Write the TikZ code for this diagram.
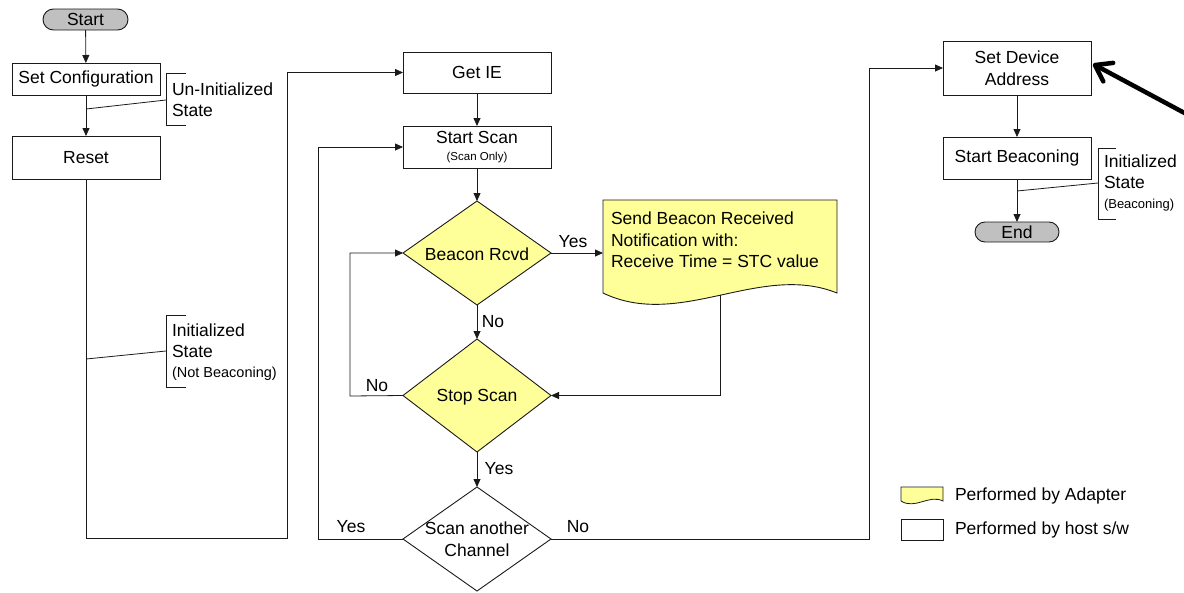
\documentclass[tikz,border=0pt]{standalone}
\usepackage{fontspec}
\setmainfont{Liberation Sans}
\usetikzlibrary{shapes.geometric,shapes.misc,arrows.meta,calc}
\definecolor{adapter}{HTML}{FFFF99}
\definecolor{termfill}{HTML}{C0C0C0}
\definecolor{ink}{HTML}{1A1A1A}

\newcommand\smalltxt{\fontsize{14.5}{17}\selectfont}
\newcommand\tinytxt{\fontsize{11.5}{13}\selectfont}

\begin{document}
\begin{tikzpicture}[x=1pt,y=-1pt,
  every node/.style={font=\fontsize{17.5}{21.5}\selectfont, inner sep=0pt, outer sep=0pt, text=black},
  proc/.style={draw=ink, line width=0.9pt, fill=white, minimum width=148pt, align=center},
  decide/.style={diamond, draw=ink, line width=0.9pt, minimum width=148pt},
  term/.style={rounded rectangle, draw=ink, line width=0.9pt, fill=termfill},
  flow/.style={draw=ink, line width=0.8pt},
  arr/.style={flow, -{Triangle[length=8pt,width=7pt]}},
  brk/.style={draw=ink, line width=0.8pt},
  note/.style={anchor=west, align=left},
  lbl/.style={}
]
\useasboundingbox (0,0) rectangle (1184,592);

% ---------- left column: host initialisation ----------
\node[term, minimum width=85pt, minimum height=21pt] (start) at (85.5,19.5) {Start};
\node[proc, minimum height=32pt] (cfg) at (86,79) {Set Configuration};
\node[proc, minimum height=43pt] (reset) at (86,157.5) {Reset};

\draw[arr] (start) -- (cfg);
\draw[arr] (cfg) -- (reset);

% state bracket: un-initialised
\draw[brk] (186,73) -- (166,73) -- (166,125) -- (186,125);
\node[note] (uninit) at (172,99.5) {Un-Initialized\\State};
\coordinate (b1) at (166,100);
\coordinate (b1t) at (86,109);
\draw[brk] (b1) -- (b1t);

% state bracket: initialised, not beaconing
\draw[brk] (186,315) -- (166,315) -- (166,387) -- (186,387);
\node[note] (initnb) at (172,352) {Initialized\\State\\[-2pt]{\smalltxt (Not Beaconing)}};
\coordinate (b2) at (166,351);
\coordinate (b2t) at (86,359);
\draw[brk] (b2) -- (b2t);

% ---------- middle column: scanning ----------
\node[proc, minimum height=41pt] (getie) at (477,72.5) {Get IE};
\node[proc, minimum height=42pt] (scan) at (477,147) {Start Scan\\[-4pt]{\tinytxt (Scan Only)}};
\node[decide, fill=adapter, minimum height=104pt] (rcvd) at (477,253) {};
\node at (477,254) (rcvdtxt) {Beacon Rcvd};
\node[decide, fill=adapter, minimum height=113pt] (stop) at (477,395.5) {};
\node at (477,397.5) (stoptxt) {Stop Scan};
\node[decide, fill=white, minimum height=104pt] (another) at (477,539) {};
\node[align=center] at (477,539) (anothertxt) {Scan another\\Channel};

% ---------- right column: beaconing ----------
\node[proc, minimum height=54pt] (setaddr) at (1017,68) {Set Device\\Address};
\node[proc, minimum height=42pt] (beacon) at (1017,158) {Start Beaconing};
\node[term, minimum width=84pt, minimum height=20pt] (endn) at (1017,232) {End};

% adapter notification (document shape)
\node[minimum width=234pt, minimum height=93pt, anchor=north west] (doc) at (603,200) {};
\path[draw=ink, line width=0.9pt, fill=adapter]
  (603,200) -- (837,200) -- (837,293) .. controls (760,262) and (680,330) .. (603,293) -- cycle;
\coordinate (docb) at (720,295.3);
\node[note] (doctxt) at (611,240) {Send Beacon Received\\Notification with:\\Receive Time = STC value};

% reset -> get IE
\coordinate (c1) at (287,538);
\draw[arr] (reset.south) |- (c1) |- (getie.west);
\draw[arr] (getie) -- (scan);
\draw[arr] (scan) -- (rcvd);
\draw[arr] (rcvd.east) -- (doc.west |- rcvd.east);
\node[lbl] (yes1) at (573,242) {Yes};
\draw[arr] (rcvd) -- (stop);
\node[lbl] (no1) at (493,322) {No};
\draw[arr] (docb) |- (stop.east);
\coordinate (c2) at (350,396);
\draw[arr] (stop.west) -- (c2) |- (rcvd.west);
\node[lbl] (no2) at (377,386) {No};
\draw[arr] (stop) -- (another);
\node[lbl] (yes2) at (499,469) {Yes};
\coordinate (c3) at (318,539);
\draw[arr] (another.west) -- (c3) |- (scan.west);
\node[lbl] (yes3) at (351,527) {Yes};
\coordinate (c4) at (869,539);
\draw[arr] (another.east) -- (c4) |- (setaddr.west);
\node[lbl] (no3) at (578,527) {No};

\draw[arr] (setaddr) -- (beacon);
\draw[arr] (beacon) -- (endn);

\draw[brk] (1116,148) -- (1098,148) -- (1098,219) -- (1116,219);
\node[note] (initb) at (1104,183) {Initialized\\State\\[-2pt]{\fontsize{13}{15}\selectfont (Beaconing)}};
\coordinate (b3) at (1098,183);
\coordinate (b3t) at (1017,191);
\draw[brk] (b3) -- (b3t);

% pointer arrow
\coordinate (ptail) at (1192,117);
\draw[line width=4.5pt, line cap=round, -{Straight Barb[length=15pt,width=21pt,round]}]
  (ptail) -- ($(setaddr.east)+(2,-4)$);

% ---------- legend ----------
\path[draw=ink, line width=0.8pt, fill=adapter]
  (901,487) -- (943,487) -- (943,501) .. controls (929,494) and (915,510) .. (901,501) -- cycle;
\node[note] (legadapter) at (955,496) {Performed by Adapter};
\node[draw=ink, line width=0.8pt, fill=white, minimum width=42pt, minimum height=21pt] (leghost) at (922,529.5) {};
\node[note] (leghosttxt) at (955,529.5) {Performed by host s/w};
\end{tikzpicture}
\end{document}
